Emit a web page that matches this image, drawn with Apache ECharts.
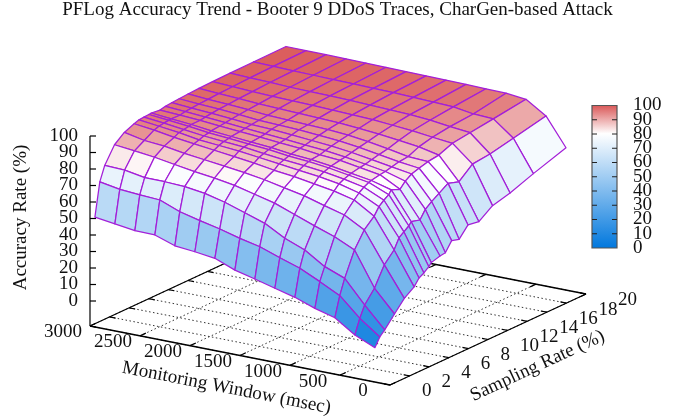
<!DOCTYPE html>
<html>
<head>
<meta charset="utf-8">
<style>html,body{margin:0;padding:0;background:#fff}#c{width:684px;height:417px}</style>
<script src="https://cdn.jsdelivr.net/npm/echarts@6/dist/echarts.min.js"></script>
</head>
<body>
<div id="c"></div>
<script>
var titleText = 'PFLog Accuracy Trend - Booter 9 DDoS Traces, CharGen-based Attack';
var windowsMs = [200,400,600,800,1000,1200,1400,1600,1800,2000,2200,2400,2600,2800,3000];
var samplingRates = [0.5,1,1.5,2.5,3.5,4.5,5,5.5,6,6.25,7.14,7.69,8.33,9.09,10,11.11,12.5,14.29,16.67,20];
var accuracy = [
 [3.7,8.8,11.7,18.6,25.3,29.5,33.5,35.2,37.6,39.4,41,41.4,47,45.7,51.9,50.8,56.7,59.4,64.6,71.1],
 [9,17.7,24.4,31.8,43.2,49.5,55.4,57.7,59.9,61.8,60.4,65.3,68.2,71.2,74.7,72.6,79.5,80.7,83.7,88],
 [17.1,29.1,38.2,52.6,62,67.5,72,74.5,76.5,78.7,76.6,80,82.6,84,85.5,86.4,89.7,91.2,93,95.7],
 [20.4,35.2,42.9,58.3,68.7,75,77.9,80,81.5,82,83,83.5,84.5,85.5,86.1,89,91,92.5,93.6,97],
 [24.7,40.9,50.6,62.5,72,78,81,82.5,83.5,84,85,85.5,86.5,87.5,88.5,90.5,92.5,94,95.5,97.3],
 [27.8,44.9,55.3,67,75.5,80,83,84.5,85.5,86,87,87.5,88.5,89.5,90.5,92,93.5,95,96,97.6],
 [31,49.2,62,71.5,78,82,84.5,86,87,87.5,88,89,90,91,92,93,94.5,95.5,96.5,97.8],
 [34,51.9,66,74.5,80.5,83.5,86,87,88,88.5,89.5,90,91,92,93,94,95,96,97,98],
 [38.8,55.2,70,77.5,82.5,85.5,87.5,88.5,89.5,90,90.5,91,92,93,93.5,94.5,95.5,96.5,97.2,98.2],
 [40.4,57.9,73,79.5,84,87,89,90,90.5,91,91.5,92,93,93.5,94,95,96,96.8,97.5,98.4],
 [41.6,60.9,74.7,81,85.5,88.5,90,91,91.5,92,92.5,93,93.5,94,94.5,95.5,96.3,97,97.8,98.6],
 [45.8,65.6,75.3,83,87,90,91,92,92.5,93,93.5,94,94.5,95,95.5,96,96.7,97.3,98,98.8],
 [46,66.3,75.4,85,89,91.5,93,93.5,94,94.5,94.5,95,95.5,96,96.3,96.8,97.2,97.8,98.3,98.9],
 [47.7,67.3,77.6,86.5,90,93.5,94.5,95,95.3,95.5,95.3,96,96.3,96.7,97,97.4,97.8,98.2,98.6,99],
 [49.5,69.4,78,87.8,92.5,95,96,96.3,96.5,96.7,96,96.8,97.2,97.5,97.9,98.2,98.5,98.7,98.9,99.1]
];
var windowTicks = [0,500,1000,1500,2000,2500,3000];
var rateTicks = [0,2,4,6,8,10,12,14,16,18,20];
var zTicks = [0,10,20,30,40,50,60,70,80,90,100];
var cbTicks = [0,10,20,30,40,50,60,70,80,90,100];

var FONT = '"Liberation Serif","Times New Roman",serif';
var view = {ox:390, oy:385, wx:-0.1, wy:-59/3000, sx:9.8, sy:-4.55, zy:-1.65, zFloor:-15.15, wMax:3000, sMax:20, zMax:100};
function proj(w,s,z){
  return [view.ox + w*view.wx + s*view.sx,
          view.oy + w*view.wy + s*view.sy + (z-view.zFloor)*view.zy];
}
function paletteColor(v){
  var a, b, t;
  if (v <= 80) { a=[0,119,221]; b=[255,255,255]; t=v/80; }
  else { a=[255,255,255]; b=[217,85,85]; t=(v-80)/20; }
  t=Math.max(0,Math.min(1,t));
  return 'rgb('+[0,1,2].map(function(k){return Math.round(a[k]+(b[k]-a[k])*t);}).join(',')+')';
}
var LINE = '#a31fd8';

function layer(data, renderItem, z){
  return {type:'custom', coordinateSystem:'cartesian2d', data:data, renderItem:renderItem, silent:true, clip:false, z:z||2, animation:false};
}
function seg(api,a,b,style){
  var p=api.coord(a), q=api.coord(b);
  return {type:'line', shape:{x1:p[0],y1:p[1],x2:q[0],y2:q[1]}, style:style};
}
function label(api,pt,text,size,align,rot,dx,dy){
  var p=api.coord(pt);
  return {type:'text', x:p[0]+(dx||0), y:p[1]+(dy||0), rotation:rot||0,
    style:{text:text, font:size+'px '+FONT, fill:'#111', align:align, verticalAlign:'middle'}};
}

var gridData = [];
windowTicks.forEach(function(w){ gridData.push(['w',w]); });
rateTicks.forEach(function(s){ gridData.push(['s',s]); });
var dotted = {stroke:'#333', lineWidth:1, lineDash:[1.5,2.5], fill:null};
var tickSt = {stroke:'#000', lineWidth:1.2, fill:null};
function floorGrid(params,api){
  var g = gridData[params.dataIndex], Z=view.zFloor;
  if (g[0]==='w') return {type:'group',children:[
     seg(api,proj(g[1],0,Z),proj(g[1],view.sMax,Z),dotted),
     seg(api,proj(g[1],0,Z),proj(g[1],0.6,Z),tickSt),
     seg(api,proj(g[1],view.sMax,Z),proj(g[1],view.sMax-0.6,Z),tickSt)]};
  return {type:'group',children:[
     seg(api,proj(0,g[1],Z),proj(view.wMax,g[1],Z),dotted),
     seg(api,proj(0,g[1],Z),proj(60,g[1],Z),tickSt),
     seg(api,proj(view.wMax,g[1],Z),proj(view.wMax-60,g[1],Z),tickSt)]};
}
var borderData = [
 [[0,0],[3000,0]], [[0,0],[0,20]], [[3000,0],[3000,20]], [[0,20],[3000,20]]
];
function floorBorder(params,api){
  var b=borderData[params.dataIndex];
  return seg(api,proj(b[0][0],b[0][1],view.zFloor),proj(b[1][0],b[1][1],view.zFloor),{stroke:'#000',lineWidth:1.3,fill:null});
}
function zAxis(params,api){
  var v=zTicks[params.dataIndex];
  var p=proj(view.wMax,0,v);
  var kids=[seg(api,p,[p[0]+6,p[1]],tickSt), label(api,p,String(v),19,'right',0,-12,0)];
  if(v===100) kids.push(seg(api,proj(view.wMax,0,view.zFloor),p,tickSt));
  return {type:'group',children:kids};
}
var quads=[];
for(var i=windowsMs.length-2;i>=0;i--){
  for(var j=samplingRates.length-2;j>=0;j--){ quads.push([i,j]); }
}
function quad(params,api){
  var q=quads[params.dataIndex], i=q[0], j=q[1];
  var c=[[i,j],[i+1,j],[i+1,j+1],[i,j+1]];
  var sum=0;
  var pts=c.map(function(n){
    var v=accuracy[n[0]][n[1]]; sum+=v;
    return api.coord(proj(windowsMs[n[0]],samplingRates[n[1]],v));
  });
  return {type:'polygon', shape:{points:pts}, style:{fill:paletteColor(sum/4), stroke:LINE, lineWidth:1.25, lineJoin:'round'}};
}
var cbBox={x0:592,x1:617,y0:248,y1:105.5};
function cbY(v){return cbBox.y0+(cbBox.y1-cbBox.y0)*v/100;}
function colorBar(params,api){
  var a=api.coord([cbBox.x0,cbBox.y1]), b=api.coord([cbBox.x1,cbBox.y0]);
  var stops=[0,40,80,90,100].map(function(v){return {offset:1-v/100,color:paletteColor(v)};}).reverse();
  return {type:'rect',shape:{x:a[0],y:a[1],width:b[0]-a[0],height:b[1]-a[1]},
    style:{fill:new echarts.graphic.LinearGradient(0,0,0,1,stops),stroke:'#555',lineWidth:1.2}};
}
function cbTick(params,api){
  var v=cbTicks[params.dataIndex], y=cbY(v), kids=[label(api,[633,y],String(v),19,'left',0,0,0)];
  if(v>0&&v<100){
    kids.push(seg(api,[cbBox.x0,y],[cbBox.x0+5,y],{stroke:'#222',lineWidth:1,fill:null}));
    kids.push(seg(api,[cbBox.x1-5,y],[cbBox.x1,y],{stroke:'#222',lineWidth:1,fill:null}));
  }
  return {type:'group',children:kids};
}
function wLabels(params,api){
  var w=windowTicks[params.dataIndex];
  return label(api,proj(w,0,view.zFloor),String(w),19,'center',0,-27,6.5);
}
function sLabels(params,api){
  var s=rateTicks[params.dataIndex];
  return label(api,proj(0,s,view.zFloor),String(s),19,'left',0,32,6.5);
}
var axisTitles=[
 {t:'Monitoring Window (msec)',x:226.5,y:388,r:-11.1*Math.PI/180,size:19},
 {t:'Sampling Rate (%)',x:537.5,y:366,r:24.9*Math.PI/180,size:19},
 {t:'Accuracy Rate (%)',x:21,y:217.5,r:Math.PI/2,size:19},
 {t:titleText,x:337.5,y:10.5,r:0,size:19}
];
function titles(params,api){
  var a=axisTitles[params.dataIndex];
  return label(api,[a.x,a.y],a.t,a.size,'center',a.r);
}
var chart=echarts.init(document.getElementById('c'),null,{renderer:'canvas'});
chart.setOption({
  animation:false,
  backgroundColor:'#fff',
  grid:{left:0,right:0,top:0,bottom:0},
  xAxis:{type:'value',min:0,max:684,show:false},
  yAxis:{type:'value',min:0,max:417,inverse:true,show:false},
  tooltip:{show:false},
  series:[
    layer(gridData.map(function(_,k){return [k,0];}),floorGrid,1),
    layer(borderData.map(function(_,k){return [k,0];}),floorBorder,1),
    layer(zTicks.map(function(_,k){return [k,0];}),zAxis,2),
    layer(quads.map(function(_,k){return [k,0];}),quad,3),
    layer([[0,0]],colorBar,4),
    layer(cbTicks.map(function(_,k){return [k,0];}),cbTick,5),
    layer(windowTicks.map(function(_,k){return [k,0];}),wLabels,5),
    layer(rateTicks.map(function(_,k){return [k,0];}),sLabels,5),
    layer(axisTitles.map(function(_,k){return [k,0];}),titles,5)
  ]
});
</script>
</body>
</html>
